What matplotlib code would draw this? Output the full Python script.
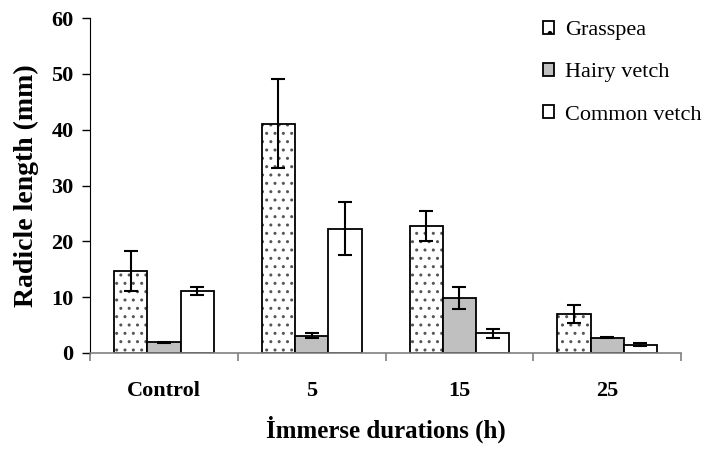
import numpy as np
import matplotlib
matplotlib.use("Agg")
import matplotlib.pyplot as plt
from matplotlib.patches import Patch

plt.rcParams["font.family"] = ["Liberation Serif", "DejaVu Serif"]
plt.rcParams["hatch.linewidth"] = 1.0

categories = ["Control", "5", "15", "25"]
series = ["Grasspea", "Hairy vetch", "Common vetch"]

grasspea = [14.7, 41.1, 22.7, 7.0]
grasspea_err = [3.6, 8.0, 2.7, 1.6]
hairy = [1.9, 3.1, 9.9, 2.7]
hairy_err = [0.1, 0.4, 2.0, 0.1]
common = [11.1, 22.3, 3.5, 1.5]
common_err = [0.75, 4.7, 0.85, 0.3]

fig = plt.figure(figsize=(7.09, 4.5), dpi=100)
ax = fig.add_axes([0.127, 0.2156, 0.8335, 0.744])

x = np.arange(len(categories))
w = 0.225
ekw = dict(ecolor="black", elinewidth=1.5, capsize=5, capthick=1.5)

# dotted fill drawn first in grey, outline on top
ax.bar(x - w, grasspea, w, color="white", edgecolor="#555555", linewidth=0, hatch="..")
ax.bar(x - w, grasspea, w, yerr=grasspea_err, color="none", edgecolor="black",
       linewidth=1.3, error_kw=ekw)
ax.bar(x, hairy, w, yerr=hairy_err, color="#c0c0c0", edgecolor="black",
       linewidth=1.3, error_kw=ekw)
ax.bar(x + w, common, w, yerr=common_err, color="white", edgecolor="black",
       linewidth=1.3, error_kw=ekw)

ax.set_xlim(-0.5, 3.5)
ax.set_ylim(0, 60)
ax.set_yticks(range(0, 61, 10))
ax.set_xticks(x)
ax.set_xticklabels(categories, fontsize=16, fontweight="bold")
ax.tick_params(axis="x", length=0, pad=20)
ax.set_xticks(np.arange(-0.5, 4, 1), minor=True)
ax.tick_params(axis="x", which="minor", length=6, color="#808080", width=1.2)
ax.tick_params(axis="y", labelsize=16, length=6, width=1, pad=6)
for lab in ax.get_yticklabels():
    lab.set_fontweight("bold")

for s in ["top", "right"]:
    ax.spines[s].set_visible(False)
ax.spines["bottom"].set_color("#808080")
ax.spines["bottom"].set_linewidth(1.2)

ax.set_ylabel("Radicle length (mm)", fontsize=20, fontweight="bold", labelpad=9)
ax.set_xlabel("İmmerse durations (h)", fontsize=18, fontweight="bold", labelpad=11)

handles = [
    Patch(facecolor="white", edgecolor="black", hatch=".", linewidth=1.3),
    Patch(facecolor="#c0c0c0", edgecolor="black", linewidth=1.3),
    Patch(facecolor="white", edgecolor="black", linewidth=1.3),
]
fig.legend(handles, series, loc="upper left", bbox_to_anchor=(0.766, 0.953),
           frameon=False, fontsize=16, handlelength=0.5, handleheight=0.5,
           handletextpad=0.5, labelspacing=1.03, borderpad=0, borderaxespad=0)

fig.savefig("out.png", dpi=100)
